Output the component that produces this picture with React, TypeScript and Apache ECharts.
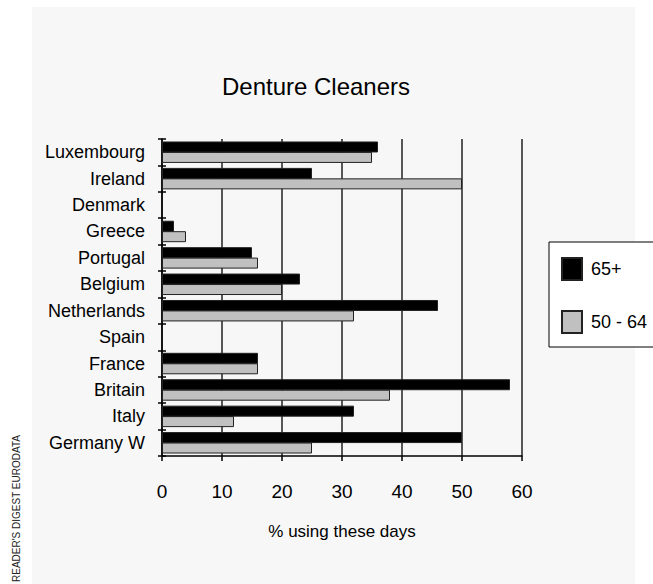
import React, { useEffect, useRef } from "react";
import * as echarts from "echarts";

const titleText = "Denture Cleaners";
const countries = [
  "Luxembourg",
  "Ireland",
  "Denmark",
  "Greece",
  "Portugal",
  "Belgium",
  "Netherlands",
  "Spain",
  "France",
  "Britain",
  "Italy",
  "Germany W",
];
const seriesNames = ["65+", "50 - 64"];
const values65plus = [36, 25, null, 2, 15, 23, 46, null, 16, 58, 32, 50];
const values50to64 = [35, 50, null, 4, 16, 20, 32, null, 16, 38, 12, 25];
const xTicks = [0, 10, 20, 30, 40, 50, 60];
const axisName = "% using these days";
const sourceText = "READER'S DIGEST EURODATA";

const FONT = "'Liberation Sans', Arial, sans-serif";

export default function App() {
  const ref = useRef<HTMLDivElement>(null);
  useEffect(() => {
    if (!ref.current) return;
    const chart = echarts.init(ref.current, null, { renderer: "svg" });
    chart.setOption({
      animation: false,
      backgroundColor: "transparent",
      title: {
        text: titleText,
        left: 311,
        textAlign: "center",
        top: 69,
        textStyle: { fontFamily: FONT, fontSize: 24, fontWeight: "normal", color: "#000" },
      },
      graphic: [
        {
          type: "rect",
          shape: { x: 549, y: 242, width: 120, height: 105 },
          style: { fill: "#ffffff", stroke: "#000", lineWidth: 1 },
          z: 1,
        },
        {
          type: "text",
          x: 16,
          y: 582,
          rotation: Math.PI / 2,
          style: {
            text: sourceText,
            fontFamily: FONT,
            fontSize: 10,
            fill: "#222",
            textAlign: "left",
            textVerticalAlign: "middle",
          },
        },
      ],
      legend: {
        orient: "vertical",
        left: 561,
        top: 257,
        itemWidth: 20,
        itemHeight: 22,
        itemGap: 29,
        padding: 0,
        icon: "rect",
        data: seriesNames,
        textStyle: { fontFamily: FONT, fontSize: 18, color: "#000", padding: [6, 0, 0, 4] },
        selectedMode: false,
        z: 5,
      },
      grid: { left: 162, right: 131, top: 139, bottom: 128, containLabel: false },
      xAxis: {
        type: "value",
        min: xTicks[0],
        max: xTicks[xTicks.length - 1],
        interval: 10,
        name: axisName,
        nameLocation: "middle",
        nameGap: 67,
        nameTextStyle: { fontFamily: FONT, fontSize: 17, color: "#000" },
        axisLine: { show: true, lineStyle: { color: "#000", width: 1.5 } },
        axisTick: { show: true, length: 5, lineStyle: { color: "#000", width: 1.5 } },
        axisLabel: { fontFamily: FONT, fontSize: 19, color: "#000", margin: 26 },
        splitLine: { show: true, lineStyle: { color: "#222", width: 1.5 } },
      },
      yAxis: [
        {
          type: "category",
          data: countries,
          inverse: true,
          axisLine: { show: true, lineStyle: { color: "#000", width: 1.5 } },
          axisTick: { show: true, length: 4, lineStyle: { color: "#000", width: 1.5 } },
          axisLabel: { fontFamily: FONT, fontSize: 18, color: "#000", margin: 17, interval: 0 },
          splitLine: { show: false },
        },
        {
          type: "category",
          data: countries,
          inverse: true,
          position: "left",
          axisLine: { show: false },
          axisTick: { show: true, inside: true, length: 4, lineStyle: { color: "#000", width: 1.5 } },
          axisLabel: { show: false },
          splitLine: { show: false },
        },
      ],
      series: [
        {
          name: seriesNames[0],
          type: "bar",
          data: values65plus,
          barWidth: 11,
          barGap: "-5%",
          z: 3,
          itemStyle: { color: "#000", borderColor: "#222", borderWidth: 1 },
        },
        {
          name: seriesNames[1],
          type: "bar",
          data: values50to64,
          barWidth: 11,
          barGap: "-5%",
          z: 2,
          itemStyle: { color: "#c0c0c0", borderColor: "#222", borderWidth: 1 },
        },
      ],
    });
    return () => chart.dispose();
  }, []);
  return (
    <div style={{ position: "fixed", left: 0, top: 0, width: 653, height: 584, background: "#fff" }}>
      <div style={{ position: "absolute", left: 32, top: 7, width: 603, height: 577, background: "#f7f7f7" }} />
      <div ref={ref} style={{ position: "absolute", left: 0, top: 0, width: 653, height: 584 }} />
    </div>
  );
}
